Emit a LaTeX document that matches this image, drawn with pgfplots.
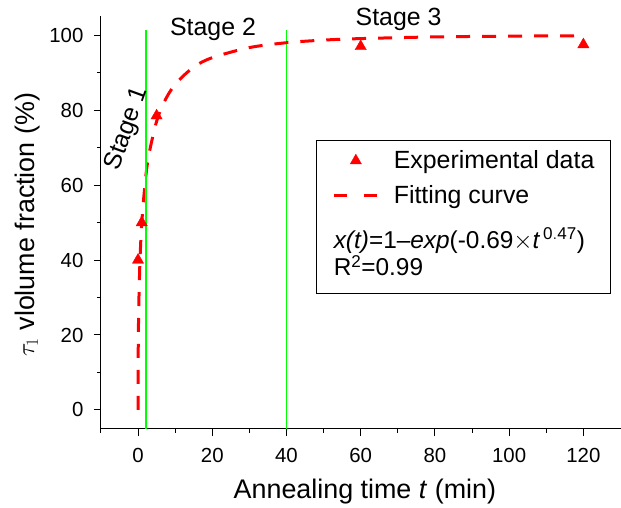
\documentclass[border=0pt]{standalone}
\usepackage{fontspec}
\setmainfont{Liberation Sans}
\usepackage{pgfplots}
\pgfplotsset{compat=1.18}
\definecolor{fitred}{RGB}{255,0,0}
\definecolor{stagegreen}{RGB}{0,255,0}
\pgfplotsset{
  markimage/.style={legend image code/.code={\draw[##1] plot coordinates {(22bp,0bp)}; \path[draw=none] (0bp,0bp) -- (50bp,0bp);}},
  dashimage/.style={legend image code/.code={\draw[##1, dash pattern=on 13bp off 17bp] (0bp,0bp) -- (43bp,0bp); \path[draw=none] (0bp,0bp) -- (58bp,0bp);}},
}

\begin{document}
\begin{tikzpicture}
\begin{axis}[
  scale only axis,
  width=520bp, height=412.5bp,
  xmin=-10, xmax=130, ymin=-5, ymax=105,
  axis x line*=bottom, axis y line*=left,
  axis line style={-, line width=1bp},
  xtick={0,20,...,120}, ytick={0,20,...,100},
  minor xtick={-10,10,30,50,70,90,110},
  minor ytick={10,30,50,70,90},
  tick align=outside,
  major tick length=7bp, minor tick length=4bp,
  every tick/.style={black, line width=1bp},
  ticklabel style={font=\fontsize{20.5}{24}\selectfont},
  xticklabel style={yshift=-9bp},
  yticklabel style={xshift=-7bp},
  /pgf/number format/assume math mode=true,
  xlabel={Annealing time \textit{t} (min)},
  ylabel={$\tau_1$ vlolume fraction (\%)},
  every axis x label/.style={at={(axis description cs:0.508,-0.153)}, anchor=center, font=\fontsize{27}{30}\selectfont},
  every axis y label/.style={at={(axis description cs:-0.142,0.4945)}, anchor=center, rotate=90, font=\fontsize{27}{30}\selectfont},
  clip=false,
  legend style={at={(axis cs:51.5,70.5)}, anchor=north west, draw=none, fill=none,
    font=\fontsize{25}{28}\selectfont, row sep=11bp, inner sep=3bp},
  legend cell align=left,
]
\addplot[draw=stagegreen, line width=1.5bp, forget plot] coordinates {(40,-5) (40,101.5)};
\addplot[only marks, mark=triangle*, mark size=6.5bp, color=fitred, markimage]
  coordinates {
  (0,40) (1,50) (5,78.5) (60,97) (120,97.5)
};
\addlegendentry{Experimental data}
\addplot[fitred, line width=3bp, dash pattern=on 14bp off 12bp, smooth, dashimage]
  coordinates {
  (0,0) (0.01,7.6) (0.05,15.5) (0.1,20.9) (0.2,27.7) (0.5,39.2) (1,49.8)
  (2,61.5) (3,68.5) (5,77.0) (7,82.1) (10,86.9) (15,91.5) (20,94.0)
  (30,96.7) (40,98.0) (50,98.7) (60,99.1) (80,99.55) (100,99.75) (120,99.86)
};
\addlegendentry{Fitting curve}
\addplot[draw=stagegreen, line width=1.5bp, forget plot] coordinates {(2.2,-5) (2.2,101.5)};
\draw[line width=1bp] (axis cs:48.2,72) rectangle (axis cs:127.3,31.2);
\node[anchor=west, font=\fontsize{24.5}{27}\selectfont] at (axis cs:51.8,45.3)
  {\textit{x(t)}=1--\textit{exp}(-0.69$\times$\textit{t}$^{\,\mathrm{0.47}}$)};
\node[anchor=west, font=\fontsize{24.5}{27}\selectfont] at (axis cs:51.8,38.5)
  {R\textsuperscript{2}=0.99};
\node[font=\fontsize{25}{28}\selectfont] at (axis cs:20.2,101.6) {Stage 2};
\node[font=\fontsize{25}{28}\selectfont] at (axis cs:70.2,104.3) {Stage 3};
\node[font=\fontsize{25}{28}\selectfont, rotate=70] at (axis cs:-2.9,75) {Stage 1};
\end{axis}
\path (-101bp,-79bp) rectangle (520bp,429bp);
\end{tikzpicture}
\end{document}
